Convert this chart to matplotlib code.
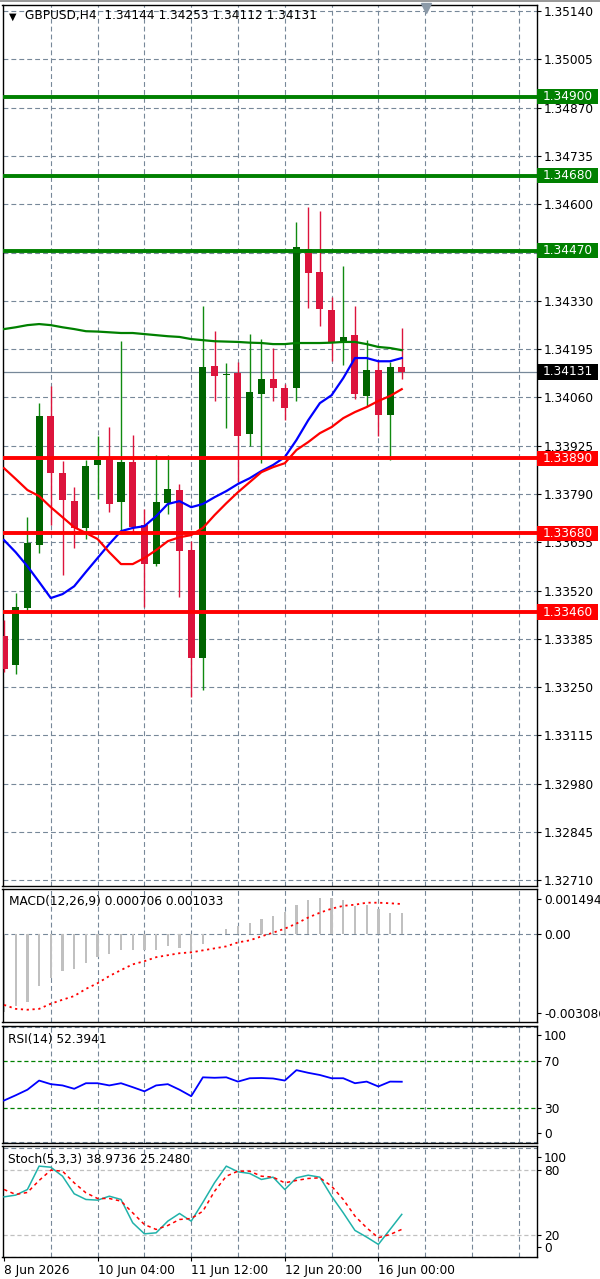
import matplotlib
matplotlib.use("Agg")
import matplotlib.pyplot as plt
import matplotlib.transforms as mtransforms
from matplotlib.patches import Rectangle

# GBPUSD H4 candles (oldest first)
opens = [1.33393, 1.33311, 1.33471, 1.33647, 1.34008, 1.33848, 1.33770, 1.33695, 1.33871, 1.33887,
         1.33767, 1.33879, 1.33703, 1.33594, 1.33764, 1.33801, 1.33633, 1.33331, 1.34147, 1.34122,
         1.34128, 1.33957, 1.34069, 1.34111, 1.34086, 1.34086, 1.34475, 1.34410, 1.34304, 1.34212,
         1.34234, 1.34064, 1.34136, 1.34010, 1.34144]
highs = [1.33437, 1.33513, 1.33725, 1.34044, 1.34092, 1.33882, 1.33809, 1.33885, 1.33952, 1.33977,
         1.34217, 1.33955, 1.33748, 1.33899, 1.33899, 1.33818, 1.33658, 1.34315, 1.34245, 1.34156,
         1.34159, 1.34237, 1.34223, 1.34198, 1.34097, 1.34550, 1.34592, 1.34581, 1.34340, 1.34427,
         1.34315, 1.34220, 1.34164, 1.34159, 1.34253]
lows = [1.33292, 1.33286, 1.33457, 1.33625, 1.33703, 1.33563, 1.33639, 1.33664, 1.33776, 1.33739,
        1.33689, 1.33683, 1.33474, 1.33590, 1.33734, 1.33502, 1.33222, 1.33242, 1.34050, 1.33974,
        1.33823, 1.33924, 1.33876, 1.34050, 1.33996, 1.34050, 1.34310, 1.34259, 1.34161, 1.34150,
        1.34055, 1.34036, 1.33952, 1.33885, 1.34112]
closes = [1.33300, 1.33474, 1.33653, 1.34008, 1.33848, 1.33773, 1.33695, 1.33868, 1.33885, 1.33762,
          1.33879, 1.33697, 1.33594, 1.33767, 1.33804, 1.33630, 1.33331, 1.34145, 1.34120, 1.34125,
          1.33952, 1.34075, 1.34111, 1.34086, 1.34030, 1.34480, 1.34407, 1.34307, 1.34212, 1.34229,
          1.34069, 1.34136, 1.34010, 1.34144, 1.34131]

# moving averages on the price chart
ma_green = [1.34251, 1.34256, 1.34262, 1.34265, 1.34262, 1.34256, 1.34251, 1.34245, 1.34244, 1.34242,
            1.34240, 1.34240, 1.34237, 1.34234, 1.34231, 1.34229, 1.34223, 1.34220, 1.34217, 1.34216,
            1.34215, 1.34213, 1.34212, 1.34209, 1.34209, 1.34212, 1.34212, 1.34212, 1.34213, 1.34215,
            1.34215, 1.34209, 1.34201, 1.34198, 1.34192]
ma_blue = [1.33661, 1.33627, 1.33588, 1.33544, 1.33499, 1.33510, 1.33532, 1.33572, 1.33611, 1.33650,
           1.33686, 1.33695, 1.33700, 1.33728, 1.33762, 1.33770, 1.33753, 1.33762, 1.33781, 1.33798,
           1.33818, 1.33834, 1.33854, 1.33871, 1.33893, 1.33941, 1.33996, 1.34044, 1.34066, 1.34114,
           1.34170, 1.34170, 1.34161, 1.34161, 1.34170]
ma_red = [1.33862, 1.33832, 1.33801, 1.33784, 1.33753, 1.33725, 1.33697, 1.33681, 1.33664, 1.33627,
          1.33594, 1.33594, 1.33611, 1.33633, 1.33658, 1.33669, 1.33675, 1.33695, 1.33731, 1.33764,
          1.33795, 1.33823, 1.33851, 1.33865, 1.33876, 1.33913, 1.33935, 1.33960, 1.33977, 1.34002,
          1.34019, 1.34033, 1.34050, 1.34064, 1.34083]

macd_main = [-0.00274, -0.00253, -0.00239, -0.00184, -0.00156, -0.00132, -0.00125, -0.00104, -0.00083, -0.00073,
             -0.00059, -0.00059, -0.00056, -0.00056, -0.00045, -0.00052, -0.00069, -0.00038, -0.00003, 0.00017,
             0.00028, 0.00038, 0.00052, 0.00062, 0.00076, 0.00101, 0.00118, 0.00125, 0.00125, 0.00118,
             0.00097, 0.00101, 0.00087, 0.00073, 0.000706]
macd_signal = [-0.00250, -0.00264, -0.00267, -0.00264, -0.00246, -0.00232, -0.00219, -0.00194, -0.00174, -0.00149,
               -0.00128, -0.00108, -0.00097, -0.00083, -0.00076, -0.00069, -0.00066, -0.00059, -0.00052, -0.00045,
               -0.00031, -0.00024, -0.00010, 0.00003, 0.00017, 0.00035, 0.00056, 0.00073, 0.00087, 0.00097,
               0.00101, 0.00108, 0.00108, 0.00106, 0.001033]

rsi = [36.2, 40.7, 45.5, 53.4, 50.3, 49.2, 46.3, 51.1, 51.1, 49.2,
       51.1, 47.7, 44.1, 49.2, 50.3, 45.5, 39.9, 56.2, 55.8, 56.2,
       52.5, 55.4, 55.6, 55.2, 53.4, 62.4, 60.1, 58.2, 55.4, 55.4,
       51.1, 52.5, 48.3, 52.5, 52.3941]

stoch_main = [55.0, 56.6, 61.7, 83.1, 82.1, 73.9, 57.8, 52.6, 52.0, 55.6,
              52.6, 31.3, 21.2, 22.1, 32.8, 39.8, 32.8, 50.0, 68.0, 83.1,
              77.9, 76.4, 70.9, 73.0, 61.7, 72.4, 74.8, 73.0, 55.6, 40.4,
              24.3, 18.2, 11.5, 25.2, 38.9736]
stoch_signal = [61.7, 57.2, 59.0, 70.0, 79.4, 78.5, 67.8, 58.7, 53.5, 53.5,
                51.1, 40.4, 29.7, 25.2, 28.8, 34.3, 35.2, 41.9, 60.2, 73.9,
                78.5, 78.5, 73.9, 73.0, 67.8, 70.0, 71.8, 72.4, 64.8, 52.6,
                37.4, 26.7, 17.6, 20.6, 25.2480]

price_ticks = [1.35140, 1.35005, 1.34870, 1.34735, 1.34600, 1.34465, 1.34330, 1.34195, 1.34060, 1.33925,
               1.33790, 1.33655, 1.33520, 1.33385, 1.33250, 1.33115, 1.32980, 1.32845, 1.32710]
green_levels = [1.34900, 1.34680, 1.34470]
red_levels = [1.33890, 1.33680, 1.33460]
last_price = closes[-1]

date_ticks = [0, 8, 16, 24, 32]
date_labels = ['8 Jun 2026', '10 Jun 04:00', '11 Jun 12:00', '12 Jun 20:00', '16 Jun 00:00']

W, H = 600, 1279
FS = 8.7
GRID = '#778899'
GRID_DASH = (0, (3.5, 2.2))
BULL = '#006400'
BULL_WICK = '#108a10'
BEAR = '#dc143c'
BOX_W = 61 / 534.5

plt.rcParams['lines.scale_dashes'] = False
plt.rcParams['font.family'] = ['DejaVu Sans']

fig = plt.figure(figsize=(W / 100, H / 100), dpi=100)
fig.add_artist(Rectangle((0, 1 - 2 / H), 1, 2 / H, transform=fig.transFigure,
                         facecolor='#9a9a9a', edgecolor='none'))

x = list(range(len(closes)))


# un pannello stile MT4: bordo nero, scala a destra, griglia tratteggiata
def make_panel(top, bottom):
    ax = fig.add_axes([2.5 / W, 1 - bottom / H, 534.5 / W, (bottom - top) / H])
    ax.set_xlim(-0.13, 45.56)
    for s in ax.spines.values():
        s.set_color('black')
        s.set_linewidth(1)
    ax.yaxis.tick_right()
    ax.tick_params(axis='y', length=3, width=0.8, pad=2, labelsize=FS, colors='black')
    ax.tick_params(axis='x', bottom=False, labelbottom=False)
    for gx in range(4, 45, 4):
        ax.axvline(gx, color=GRID, lw=0.8, ls=GRID_DASH, zorder=0)
    return ax


def price_tag(ax, y, face, box_h):
    tr = mtransforms.blended_transform_factory(ax.transAxes, ax.transData)
    ax.add_patch(Rectangle((1.0, y - box_h / 2), BOX_W, box_h, transform=tr,
                           facecolor=face, edgecolor='none', clip_on=False, zorder=6))
    ax.text(1.0 + 6 / 534.5, y, '%.5f' % y, transform=tr, color='white', fontsize=FS,
            ha='left', va='center', clip_on=False, zorder=7)


# ---- price chart ----
ax = make_panel(5, 886)
ax.set_ylim(1.32694, 1.35157)
ax.set_yticks(price_ticks)
# the 1.34465 label sits right under the 1.34470 tag, so it is not shown
tick_text = []
for p in price_ticks:
    if any(abs(p - lvl) < 0.0001 for lvl in green_levels):
        tick_text.append('')
    else:
        tick_text.append('%.5f' % p)
ax.set_yticklabels(tick_text)
for p in price_ticks:
    ax.axhline(p, color=GRID, lw=0.8, ls=GRID_DASH, zorder=0)

ax.axhline(last_price, color=GRID, lw=0.9, zorder=1)

for i in x:
    o, h, l, c = opens[i], highs[i], lows[i], closes[i]
    up = c >= o
    ax.vlines(i, l, h, color=BULL_WICK if up else BEAR, lw=1.0, zorder=3)
    ax.bar(i, max(abs(c - o), 0.00003), bottom=min(o, c), width=0.6,
           color=BULL if up else BEAR, linewidth=0, zorder=3)

ax.plot(x, ma_green, color='#008000', lw=1.6, zorder=4)
ax.plot(x, ma_blue, color='#0000ff', lw=1.6, zorder=4)
ax.plot(x, ma_red, color='#ff0000', lw=1.6, zorder=4)

for lvl in green_levels:
    ax.axhline(lvl, color='#008000', lw=2.8, zorder=5)
    price_tag(ax, lvl, '#008000', 0.00042)
for lvl in red_levels:
    ax.axhline(lvl, color='#ff0000', lw=2.8, zorder=5)
    price_tag(ax, lvl, '#ff0000', 0.00042)
price_tag(ax, last_price, 'black', 0.00042)

# chart shift marker
ax.plot([36.1], [1.35149], marker='v', color='#8c9aa8', ms=7, clip_on=False, zorder=8)

fig.text(12.5 / W, 1 - 16.5 / H, '\u25bc', fontsize=7, ha='center', va='center')
fig.text(25 / W, 1 - 16 / H, 'GBPUSD,H4  %.5f %.5f %.5f %.5f' % (opens[-1], highs[-1], lows[-1], closes[-1]),
         fontsize=FS, ha='left', va='center')

# ---- MACD ----
ax2 = make_panel(889, 1022)
ax2.set_ylim(-0.00310, 0.00156)
ax2.axhline(0, color=GRID, lw=0.8, ls=GRID_DASH, zorder=1)
ax2.bar(x, macd_main, width=0.2, color='#c0c0c0', linewidth=0, zorder=2)
ax2.plot(x, macd_signal, color='#ff0000', lw=1.3, ls=(0, (1.6, 2.6)), zorder=3)
ax2.set_yticks([0.00121, 0.0, -0.00278])
ax2.set_yticklabels(['0.001494', '0.00', '-0.003086'])
fig.text(9 / W, 1 - 901 / H, 'MACD(12,26,9) %.6f %.6f' % (macd_main[-1], macd_signal[-1]),
         fontsize=FS, ha='left', va='center')

# ---- RSI ----
ax3 = make_panel(1026, 1143)
ax3.set_ylim(-0.5, 100.5)
for lvl in (0, 100):
    ax3.axhline(lvl, color=GRID, lw=0.8, ls=GRID_DASH, zorder=0)
for lvl in (70, 30):
    ax3.axhline(lvl, color='#008000', lw=0.9, ls=(0, (3, 2)), zorder=1)
ax3.plot(x, rsi, color='#0000ff', lw=1.3, zorder=3)
ax3.set_yticks([92.8, 70, 30, 8.5])
ax3.set_yticklabels(['100', '70', '30', '0'])
fig.text(8 / W, 1 - 1039 / H, 'RSI(14) %.4f' % rsi[-1], fontsize=FS, ha='left', va='center')

# ---- Stochastic ----
ax4 = make_panel(1146, 1257)
ax4.set_ylim(0, 101.5)
for lvl in (0, 100):
    ax4.axhline(lvl, color=GRID, lw=0.8, ls=GRID_DASH, zorder=0)
for lvl in (80, 20):
    ax4.axhline(lvl, color='#c0c0c0', lw=0.9, ls=(0, (3, 2)), zorder=1)
ax4.plot(x, stoch_main, color='#20b2aa', lw=1.1, zorder=3)
ax4.plot(x, stoch_signal, color='#ff0000', lw=1.1, ls=(0, (2.5, 2.5)), zorder=3)
ax4.set_yticks([91.5, 80, 20, 8.8])
ax4.set_yticklabels(['100', '80', '20', '0'])
fig.text(8 / W, 1 - 1160 / H, 'Stoch(5,3,3) %.4f %.4f' % (stoch_main[-1], stoch_signal[-1]),
         fontsize=FS, ha='left', va='center')

ax4.set_xticks(date_ticks)
ax4.set_xticklabels(date_labels, ha='left')
ax4.tick_params(axis='x', bottom=True, labelbottom=True, length=3, width=0.8, pad=2, labelsize=FS)

fig.savefig('out.png', dpi=100)
